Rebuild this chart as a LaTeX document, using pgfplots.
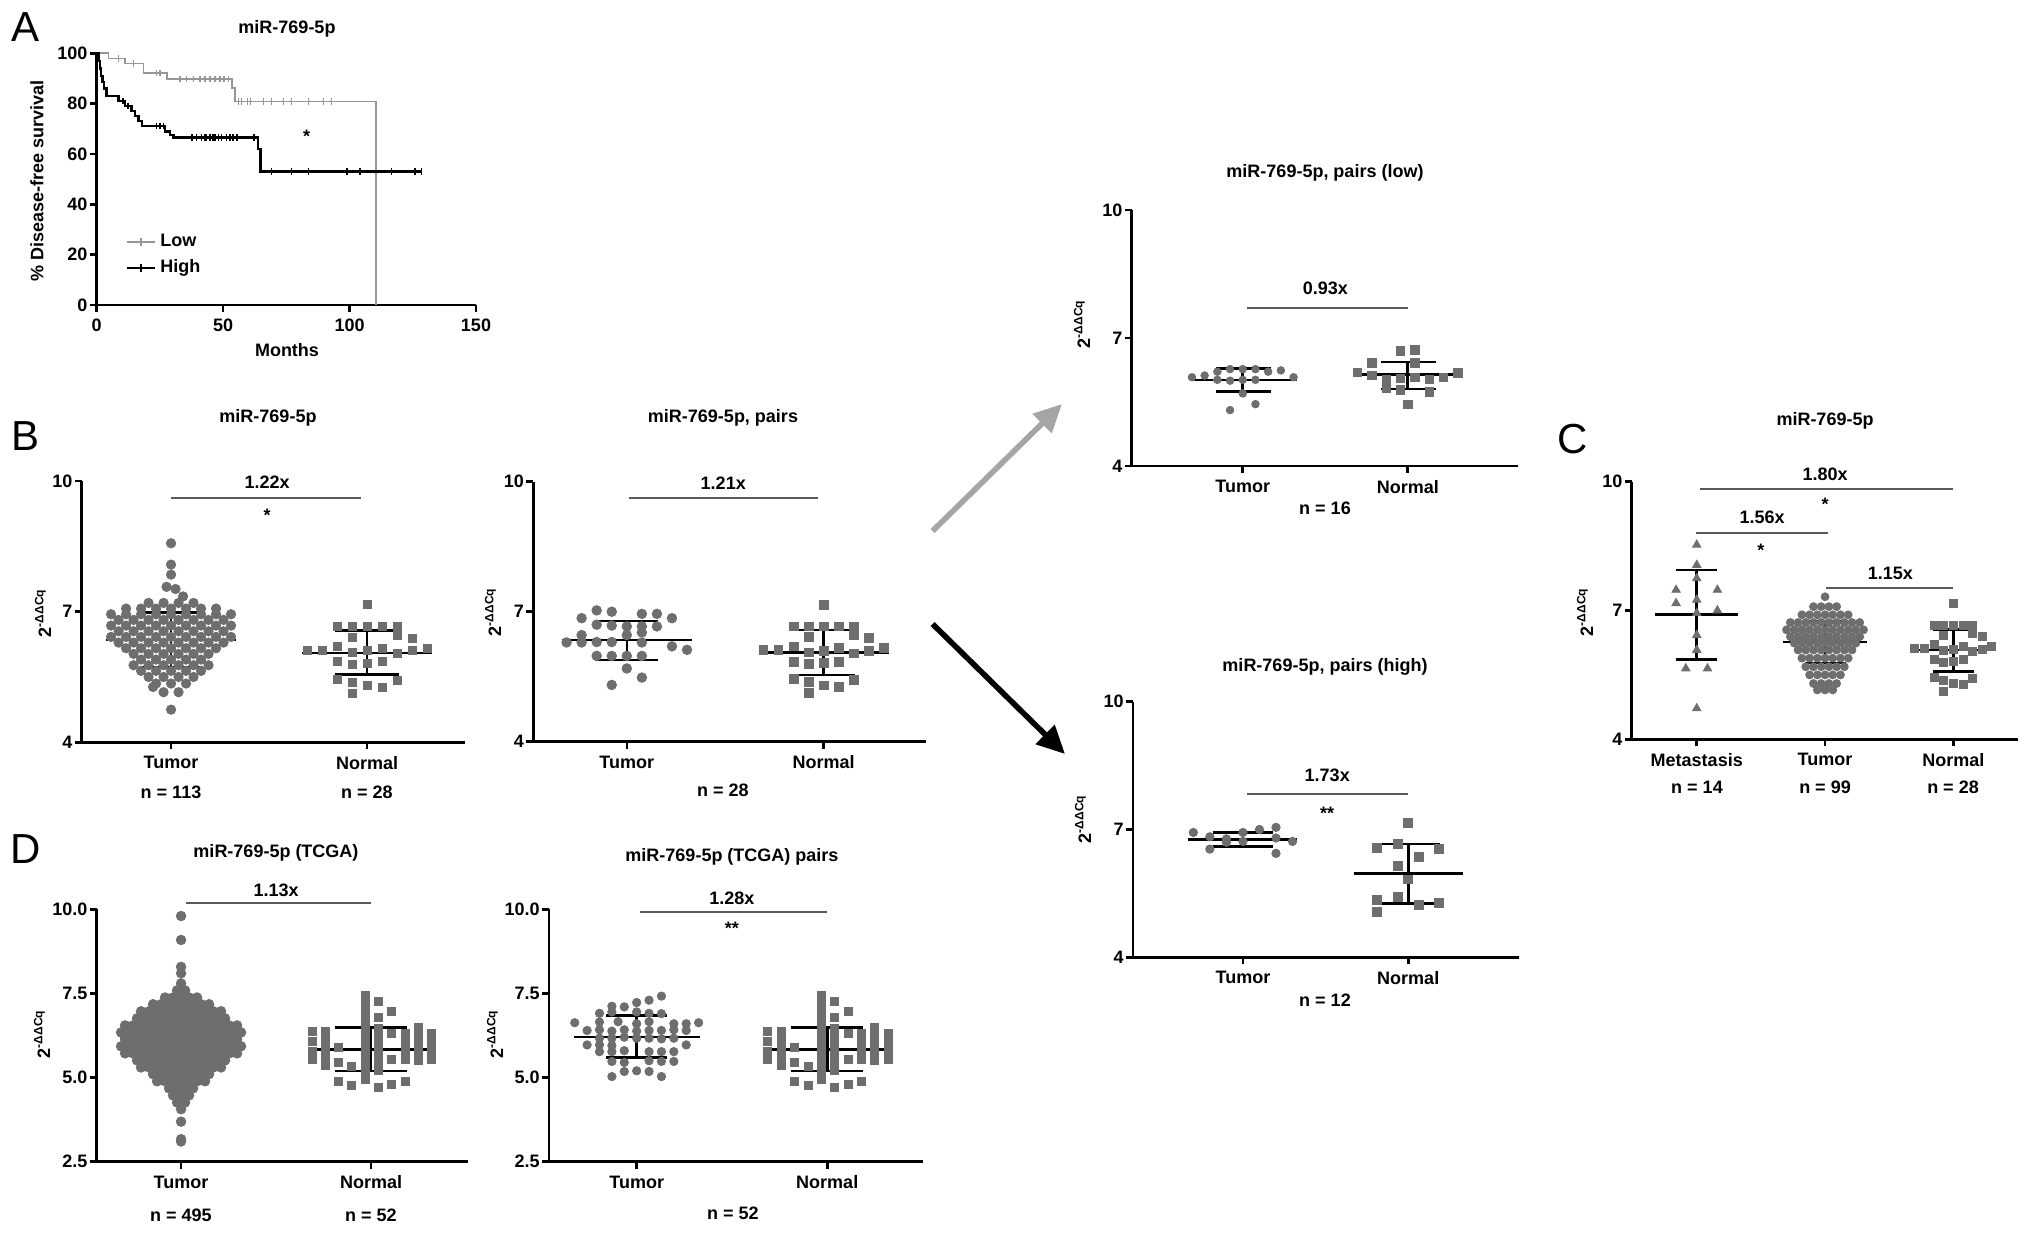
\documentclass[border=0pt]{standalone}
\usepackage{fontspec}
\setmainfont{Liberation Sans}
\usepackage{pgfplots}
\usepackage{pgfplotstable}
\pgfplotsset{compat=1.18}
\usetikzlibrary{arrows.meta}
\definecolor{mk}{RGB}{110,110,110}
\definecolor{lowc}{RGB}{150,150,150}
\definecolor{anncol}{RGB}{90,90,90}
\definecolor{arrg}{RGB}{165,165,165}
\newcommand\fs{\fontsize{9}{10.8}\selectfont\bfseries}
\newcommand\ddcq{2\textsuperscript{-ΔΔCq}}
\pgfplotsset{
  prism/.style={scale only axis, anchor=south west, axis lines=left,
    axis line style={-, line width=1.3pt, black},
    enlargelimits=false, clip=false,
    tick align=outside, major tick length=3.5pt,
    tick style={black, line width=1.3pt},
    tick label style={font=\fs, black},
    yticklabel style={inner xsep=1pt},
    /pgf/number format/assume math mode=true,
    ymin=4, ymax=10, ytick={4,7,10}, xtick={1,2}, xticklabels={Tumor,Normal}},
  mbar/.style={black, line width=1.3pt, unbounded coords=jump, forget plot, mark=none},
}
% x, mean, hi, lo, meanL, meanR, capL, capR
\newcommand\eb[8]{\addplot[mbar] coordinates {(#5,#2) (#6,#2) (#1,nan) (#7,#3) (#8,#3) (#1,nan) (#1,#3) (#1,#4) (#1,nan) (#7,#4) (#8,#4)};}

% ---------- data: s = swarm slot, y = value ----------
\pgfplotstableread[row sep=\\]{s y\\
0 8.57\\0 8.08\\0 7.85\\-0.3 7.57\\0.3 7.52\\0.8 7.35\\
-1.5 7.2\\-0.5 7.2\\0.5 7.2\\1.5 7.2\\
-3 7.07\\-2 7.07\\-1 7.07\\0 7.07\\1 7.07\\2 7.07\\3 7.07\\
-4 6.94\\-3 6.94\\-2 6.94\\-1 6.94\\0 6.94\\1 6.94\\2 6.94\\3 6.94\\4 6.94\\
-3.5 6.81\\-2.5 6.81\\-1.5 6.81\\-0.5 6.81\\0.5 6.81\\1.5 6.81\\2.5 6.81\\3.5 6.81\\
-4 6.68\\-3 6.68\\-2 6.68\\-1 6.68\\0 6.68\\1 6.68\\2 6.68\\3 6.68\\4 6.68\\
-3.5 6.55\\-2.5 6.55\\-1.5 6.55\\-0.5 6.55\\0.5 6.55\\1.5 6.55\\2.5 6.55\\3.5 6.55\\
-4 6.42\\-3 6.42\\-2 6.42\\-1 6.42\\0 6.42\\1 6.42\\2 6.42\\3 6.42\\4 6.42\\
-3.5 6.29\\-2.5 6.29\\-1.5 6.29\\-0.5 6.29\\0.5 6.29\\1.5 6.29\\2.5 6.29\\3.5 6.29\\
-3 6.16\\-2 6.16\\-1 6.16\\0 6.16\\1 6.16\\2 6.16\\3 6.16\\
-2.5 6.03\\-1.5 6.03\\-0.5 6.03\\0.5 6.03\\1.5 6.03\\2.5 6.03\\
-2 5.9\\-1 5.9\\0 5.9\\1 5.9\\2 5.9\\
-2.5 5.77\\-1.5 5.77\\-0.5 5.77\\0.5 5.77\\1.5 5.77\\2.5 5.77\\
-2 5.64\\-1 5.64\\0 5.64\\1 5.64\\2 5.64\\
-1.5 5.5\\-0.5 5.5\\0.5 5.5\\1.5 5.5\\
-1 5.35\\0 5.35\\1 5.35\\
-1.2 5.27\\-0.5 5.15\\0.5 5.15\\
0 4.75\\
}\tBt
\pgfplotstableread[row sep=\\]{s y\\
0 7.16\\-2 6.66\\-1 6.66\\0 6.66\\1 6.66\\2 6.66\\-1 6.42\\2 6.46\\3 6.39\\
-4 6.12\\-3 6.12\\-2 6.2\\-1 6.06\\0 6.1\\1 6.16\\2 6.04\\3 6.1\\4 6.16\\
-2 5.85\\-1 5.8\\0 5.81\\1 5.85\\-2 5.45\\-1 5.38\\2 5.42\\-1 5.12\\0 5.3\\1 5.27\\
}\tN
\pgfplotstableread[row sep=\\]{s y\\
-2 7.03\\-1 7.0\\1 6.95\\2 6.95\\-3 6.85\\3 6.85\\-2 6.70\\-1 6.68\\0 6.66\\1 6.66\\2 6.66\\
-3 6.46\\0 6.46\\1 6.52\\-4 6.29\\-3 6.29\\-2 6.30\\-1 6.30\\1 6.29\\3 6.20\\4 6.12\\
-2 5.98\\-1 5.98\\0 5.98\\1 5.98\\0 5.69\\1 5.48\\-1 5.31\\
}\tBp
\pgfplotstableread[row sep=\\]{s y\\
-4 6.08\\-3 6.12\\-2 6.21\\-1 6.27\\0 6.27\\1 6.27\\2 6.21\\3 6.24\\4 6.08\\
-2 6.02\\-1 6.0\\0 6.02\\1 6.02\\0 5.70\\-1 5.31\\1 5.45\\
}\tLt
\pgfplotstableread[row sep=\\]{s y\\
-0.5 6.70\\0.5 6.72\\-2.5 6.42\\0.5 6.42\\-3.5 6.20\\-2.5 6.13\\-1.5 6.02\\-0.5 6.05\\
0.5 6.08\\1.5 6.03\\2.5 6.08\\3.5 6.18\\-1.5 5.82\\-0.5 5.78\\1.5 5.74\\0 5.45\\
}\tLn
\pgfplotstableread[row sep=\\]{s y\\
-3 6.93\\-2 6.83\\-1 6.78\\0 6.93\\1 7.0\\2 7.05\\3 6.72\\-2 6.54\\-1 6.70\\0 6.72\\2 6.44\\2 6.80\\
}\tHt
\pgfplotstableread[row sep=\\]{s y\\
0 7.15\\-3 6.56\\-1 6.66\\3 6.54\\1 6.36\\-1 6.14\\0 5.83\\-3 5.35\\-1 5.41\\1 5.23\\3 5.28\\-3 5.07\\
}\tHn
\pgfplotstableread[row sep=\\]{s y\\
0 8.53\\0 8.06\\0 7.75\\0 7.25\\0 6.94\\0 6.43\\0 6.08\\-1 7.48\\-1 7.17\\1 7.48\\1 7.0\\-0.53 5.65\\0.52 5.65\\0 4.72\\
}\tCm
\pgfplotstableread[row sep=\\]{s y\\
0 7.32\\
-1.5 7.09\\-0.5 7.09\\0.5 7.09\\1.5 7.09\\
-3 6.90\\-2 6.90\\-1 6.90\\0 6.90\\1 6.90\\2 6.90\\3 6.90\\
-4.5 6.72\\-3.5 6.72\\-2.5 6.72\\-1.5 6.72\\-0.5 6.72\\0.5 6.72\\1.5 6.72\\2.5 6.72\\3.5 6.72\\4.5 6.72\\
-5 6.55\\-4 6.55\\-3 6.55\\-2 6.55\\-1 6.55\\0 6.55\\1 6.55\\2 6.55\\3 6.55\\4 6.55\\5 6.55\\
-4.5 6.39\\-3.5 6.39\\-2.5 6.39\\-1.5 6.39\\-0.5 6.39\\0.5 6.39\\1.5 6.39\\2.5 6.39\\3.5 6.39\\4.5 6.39\\
-4 6.24\\-3 6.24\\-2 6.24\\-1 6.24\\0 6.24\\1 6.24\\2 6.24\\3 6.24\\4 6.24\\
-3.5 6.08\\-2.5 6.08\\-1.5 6.08\\-0.5 6.08\\0.5 6.08\\1.5 6.08\\2.5 6.08\\3.5 6.08\\
-3 5.89\\-2 5.89\\-1 5.89\\0 5.89\\1 5.89\\2 5.89\\3 5.89\\
-2.5 5.69\\-1.5 5.69\\-0.5 5.69\\0.5 5.69\\1.5 5.69\\2.5 5.69\\
-2 5.50\\-1 5.50\\0 5.50\\1 5.50\\2 5.50\\
-1.5 5.30\\-0.5 5.30\\0.5 5.30\\1.5 5.30\\
-1 5.15\\0 5.15\\1 5.15\\
}\tCt
\pgfplotstableread[row sep=\\]{s y\\
0 9.80\\0 9.09\\0 8.29\\0 8.10\\0 7.80\\
-0.5 7.59\\0.5 7.59\\
-2 7.38\\-1 7.38\\0 7.38\\1 7.38\\2 7.38\\
-3.5 7.18\\-2.5 7.18\\-1.5 7.18\\-0.5 7.18\\0.5 7.18\\1.5 7.18\\2.5 7.18\\3.5 7.18\\
-5 6.97\\-4 6.97\\-3 6.97\\-2 6.97\\-1 6.97\\0 6.97\\1 6.97\\2 6.97\\3 6.97\\4 6.97\\5 6.97\\
-5.5 6.76\\-4.5 6.76\\-3.5 6.76\\-2.5 6.76\\-1.5 6.76\\-0.5 6.76\\0.5 6.76\\1.5 6.76\\2.5 6.76\\3.5 6.76\\4.5 6.76\\5.5 6.76\\
-7 6.55\\-6 6.55\\-5 6.55\\-4 6.55\\-3 6.55\\-2 6.55\\-1 6.55\\0 6.55\\1 6.55\\2 6.55\\3 6.55\\4 6.55\\5 6.55\\6 6.55\\7 6.55\\
-7.5 6.34\\-6.5 6.34\\-5.5 6.34\\-4.5 6.34\\-3.5 6.34\\-2.5 6.34\\-1.5 6.34\\-0.5 6.34\\0.5 6.34\\1.5 6.34\\2.5 6.34\\3.5 6.34\\4.5 6.34\\5.5 6.34\\6.5 6.34\\7.5 6.34\\
-7 6.14\\-6 6.14\\-5 6.14\\-4 6.14\\-3 6.14\\-2 6.14\\-1 6.14\\0 6.14\\1 6.14\\2 6.14\\3 6.14\\4 6.14\\5 6.14\\6 6.14\\7 6.14\\
-7.5 5.93\\-6.5 5.93\\-5.5 5.93\\-4.5 5.93\\-3.5 5.93\\-2.5 5.93\\-1.5 5.93\\-0.5 5.93\\0.5 5.93\\1.5 5.93\\2.5 5.93\\3.5 5.93\\4.5 5.93\\5.5 5.93\\6.5 5.93\\7.5 5.93\\
-7 5.72\\-6 5.72\\-5 5.72\\-4 5.72\\-3 5.72\\-2 5.72\\-1 5.72\\0 5.72\\1 5.72\\2 5.72\\3 5.72\\4 5.72\\5 5.72\\6 5.72\\7 5.72\\
-5.5 5.51\\-4.5 5.51\\-3.5 5.51\\-2.5 5.51\\-1.5 5.51\\-0.5 5.51\\0.5 5.51\\1.5 5.51\\2.5 5.51\\3.5 5.51\\4.5 5.51\\5.5 5.51\\
-5 5.30\\-4 5.30\\-3 5.30\\-2 5.30\\-1 5.30\\0 5.30\\1 5.30\\2 5.30\\3 5.30\\4 5.30\\5 5.30\\
-3.5 5.10\\-2.5 5.10\\-1.5 5.10\\-0.5 5.10\\0.5 5.10\\1.5 5.10\\2.5 5.10\\3.5 5.10\\
-3 4.89\\-2 4.89\\-1 4.89\\0 4.89\\1 4.89\\2 4.89\\3 4.89\\
-1.5 4.68\\-0.5 4.68\\0.5 4.68\\1.5 4.68\\
-1 4.47\\0 4.47\\1 4.47\\
-0.5 4.26\\0.5 4.26\\
0 4.06\\0 3.69\\0 3.17\\0 3.10\\
}\tDt
\pgfplotstableread[row sep=\\]{s y\\
-4.45 6.36\\-4.45 6.07\\-4.45 5.77\\-4.45 5.55\\
-3.45 6.36\\-3.45 6.1\\-3.45 5.85\\-3.45 5.6\\-3.45 5.35\\
-2.45 5.9\\-2.45 5.45\\-2.45 4.88\\
-1.45 5.32\\-1.45 4.78\\
-0.45 7.45\\-0.45 7.2\\-0.45 6.95\\-0.45 6.7\\-0.45 6.45\\-0.45 6.2\\-0.45 5.95\\-0.45 5.7\\-0.45 5.45\\-0.45 5.2\\-0.45 4.95\\
0.55 7.25\\0.55 6.79\\0.55 6.45\\0.55 6.2\\0.55 5.95\\0.55 5.7\\0.55 5.45\\0.55 5.2\\0.55 4.7\\
1.55 6.96\\1.55 6.3\\1.55 5.55\\1.55 4.8\\
2.55 6.3\\2.55 6.05\\2.55 5.8\\2.55 5.55\\2.55 4.9\\
3.55 6.5\\3.55 6.25\\3.55 6.0\\3.55 5.75\\3.55 5.5\\
4.55 6.3\\4.55 6.05\\4.55 5.8\\4.55 5.55\\
}\tDn
\pgfplotstableread[row sep=\\]{s y\\
2 7.42\\1 7.30\\0 7.23\\-2 7.12\\-1 7.10\\-3 6.91\\-2 6.95\\0 6.95\\1 6.91\\2 6.90\\
-5 6.63\\-3 6.65\\-1.5 6.66\\0 6.6\\1 6.66\\3 6.6\\4 6.6\\5 6.63\\
-4 6.40\\-3 6.42\\-2 6.38\\-1 6.42\\0 6.38\\1 6.4\\2 6.4\\3 6.42\\4 6.4\\
-3 6.17\\-2 6.17\\-1 6.2\\0 6.17\\1 6.17\\2 6.15\\3 6.17\\
-4 5.97\\-3 5.97\\-2 5.95\\4 5.97\\
-3 5.77\\-2 5.77\\-1 5.8\\1 5.77\\2 5.77\\3 5.77\\
-2 5.48\\-1 5.45\\1 5.5\\2 5.48\\3 5.48\\
-1 5.18\\0 5.2\\1 5.18\\-2 5.03\\2 5.03\\
}\tDp

\begin{document}
\begin{tikzpicture}
\begin{scope}[x=0.5pt,y=-0.5pt]
\path[use as bounding box] (0,0) rectangle (2031,1235);
\node[font=\fontsize{21}{24}\selectfont] at (26,27) {A};
\node[font=\fontsize{21}{24}\selectfont] at (25.5,436) {B};
\node[font=\fontsize{21}{24}\selectfont] at (1573,439) {C};
\node[font=\fontsize{21}{24}\selectfont] at (25.5,849) {D};

\node[font=\fs] at (287,29) {miR-769-5p};
\node[font=\fs] at (268,418) {miR-769-5p};
\node[font=\fs] at (723,418) {miR-769-5p, pairs};
\node[font=\fs] at (1325,173) {miR-769-5p, pairs (low)};
\node[font=\fs] at (1325,667) {miR-769-5p, pairs (high)};
\node[font=\fs] at (1825,421) {miR-769-5p};
\node[font=\fs] at (276,853) {miR-769-5p (TCGA)};
\node[font=\fs] at (732,857) {miR-769-5p (TCGA) pairs};

\node[font=\fs, rotate=90] at (37,181) {\% Disease-free survival};
\node[font=\fs] at (287,350) {Months};

\node[font=\fs, rotate=90] at (43,613) {\ddcq};
\node[font=\fs, rotate=90] at (493,612) {\ddcq};
\node[font=\fs, rotate=90] at (1082,324) {\ddcq};
\node[font=\fs, rotate=90] at (1083,819) {\ddcq};
\node[font=\fs, rotate=90] at (1585,612) {\ddcq};
\node[font=\fs, rotate=90] at (42,1034) {\ddcq};
\node[font=\fs, rotate=90] at (495,1034) {\ddcq};

\node[font=\fs] at (171,792) {n = 113};
\node[font=\fs] at (367,792) {n = 28};
\node[font=\fs] at (723,790) {n = 28};
\node[font=\fs] at (1325,508) {n = 16};
\node[font=\fs] at (1325,1000) {n = 12};
\node[font=\fs] at (1697,787) {n = 14};
\node[font=\fs] at (1825,787) {n = 99};
\node[font=\fs] at (1953,787) {n = 28};
\node[font=\fs] at (181,1215) {n = 495};
\node[font=\fs] at (371,1215) {n = 52};
\node[font=\fs] at (733,1213) {n = 52};

\draw[arrg, line width=2.8pt, -{Triangle[length=14pt,width=13pt]}] (932.6,531) -- (1062,404);
\draw[black, line width=2.8pt, -{Triangle[length=14pt,width=13pt]}] (932.6,624) -- (1065,754);
\end{scope}

% ================= A =================
\begin{axis}[prism, at={(48.35pt,-152.5pt)}, width=189.65pt, height=125.85pt,
  xmin=0, xmax=150, ymin=0, ymax=100, xtick={0,50,100,150}, xticklabels={0,50,100,150},
  ytick={0,20,40,60,80,100},
  legend style={draw=none, fill=none, at={(axis cs:9,19.8)}, anchor=west, font=\fs, row sep=1pt},
  legend cell align=left,
  legend image code/.code={\draw[mark repeat=2,mark phase=2,#1] plot coordinates {(0pt,0pt) (7pt,0pt) (14pt,0pt)};}]
\addlegendimage{lowc, line width=0.8pt, mark=|, mark size=2pt}
\addlegendimage{black, line width=1.2pt, mark=|, mark size=2pt}
\legend{Low,High}
\addplot[lowc, line width=0.8pt, const plot, forget plot] coordinates {(0,100) (4.6,98) (11.2,96) (18.5,92.1) (27.7,89.8) (53.4,86.1) (54.7,80.8) (110.4,0)};
\addplot[lowc, only marks, mark=|, mark size=1.6pt, mark options={line width=0.7pt}, forget plot] coordinates {(8.6,98) (14.5,96) (23.7,92.1) (25,92.1) (33,89.8) (35.6,89.8) (38.2,89.8) (40.9,89.8) (42.8,89.8) (44.8,89.8) (46.8,89.8) (48.8,89.8) (50.3,89.8) (52.1,89.8) (56,80.8) (57.3,80.8) (59.6,80.8) (60.9,80.8) (65.9,80.8) (69.2,80.8) (73.8,80.8) (77.1,80.8) (83.7,80.8) (89.6,80.8) (92.9,80.8)};
\addplot[black, line width=1.2pt, const plot, forget plot] coordinates {(0,100) (0.7,97) (1.2,94) (1.7,91) (2.3,88.5) (3,86) (3.8,83) (8.6,81) (11.2,79) (13.8,77) (15.2,75) (16.5,73) (17.8,71) (27,69) (29,67.5) (30.3,66.5) (63.9,62) (64.8,53) (128.5,53)};
\addplot[black, only marks, mark=|, mark size=1.6pt, mark options={line width=0.8pt}, forget plot] coordinates {(10.5,81) (12.3,79) (23.7,71) (25,71) (26.4,71) (37.6,66.5) (39.5,66.5) (41.5,66.5) (42.8,66.5) (43.5,66.5) (44.8,66.5) (45.9,66.5) (46.8,66.5) (48.1,66.5) (49.4,66.5) (51.4,66.5) (52.7,66.5) (54,66.5) (55.6,66.5) (62.2,66.5) (69.2,53) (77.1,53) (83.7,53) (98.9,53) (104.1,53) (116.6,53) (125.9,53) (128.5,53)};
\node[font=\fs] at (83,67) {*};
\end{axis}

% ================= B1 =================
\begin{axis}[prism, at={(40.85pt,-371.15pt)}, width=191.65pt, height=130.65pt, xmin=0.544, xmax=2.5]
\addplot[only marks, mark=*, mark size=2.35pt, mk] table[x expr=1+0.0765*\thisrow{s}, y=y]{\tBt};
\addplot[only marks, mark=square*, mark size=2pt, mk] table[x expr=2+0.0765*\thisrow{s}, y=y]{\tN};
\eb{1}{6.35}{6.98}{5.72}{0.67}{1.33}{0.837}{1.163}
\eb{2}{6.05}{6.57}{5.55}{1.67}{2.33}{1.837}{2.163}
\draw[anncol, line width=1pt] (1.0,9.62) -- (1.97,9.62);
\node[font=\fs] at (1.49,9.97) {1.22x};
\node[font=\fs] at (1.49,9.22) {*};
\end{axis}

% ================= B2 =================
\begin{axis}[prism, at={(266.65pt,-370.85pt)}, width=196.35pt, height=130pt, xmin=0.525, xmax=2.52]
\addplot[only marks, mark=*, mark size=2.4pt, mk] table[x expr=1+0.0765*\thisrow{s}, y=y]{\tBp};
\addplot[only marks, mark=square*, mark size=2.2pt, mk] table[x expr=2+0.0765*\thisrow{s}, y=y]{\tN};
\eb{1}{6.35}{6.79}{5.89}{0.67}{1.33}{0.84}{1.16}
\eb{2}{6.06}{6.58}{5.54}{1.67}{2.33}{1.84}{2.16}
\draw[anncol, line width=1pt] (1.01,9.62) -- (1.97,9.62);
\node[font=\fs] at (1.49,9.97) {1.21x};
\end{axis}

% ================= pairs (low) =================
\begin{axis}[prism, at={(565.85pt,-233pt)}, width=193.15pt, height=128pt, xmin=0.327, xmax=2.668]
\addplot[only marks, mark=*, mark size=1.9pt, mk] table[x expr=1+0.077*\thisrow{s}, y=y]{\tLt};
\addplot[only marks, mark=square*, mark size=2.1pt, mk] table[x expr=2+0.087*\thisrow{s}, y=y]{\tLn};
\eb{1}{6.02}{6.29}{5.74}{0.69}{1.33}{0.84}{1.17}
\eb{2}{6.14}{6.44}{5.80}{1.68}{2.33}{1.84}{2.17}
\draw[anncol, line width=1pt] (1.024,7.70) -- (2,7.70);
\node[font=\fs] at (1.5,8.17) {0.93x};
\end{axis}

% ================= pairs (high) =================
\begin{axis}[prism, at={(566.5pt,-478.65pt)}, width=193pt, height=127.8pt, xmin=0.335, xmax=2.67]
\addplot[only marks, mark=*, mark size=2.1pt, mk] table[x expr=1+0.1*\thisrow{s}, y=y]{\tHt};
\addplot[only marks, mark=square*, mark size=2.2pt, mk] table[x expr=2+0.0625*\thisrow{s}, y=y]{\tHn};
\eb{1}{6.77}{6.93}{6.60}{0.67}{1.33}{0.82}{1.18}
\eb{2}{5.97}{6.66}{5.27}{1.67}{2.33}{1.81}{2.19}
\draw[anncol, line width=1pt] (1.025,7.83) -- (2,7.83);
\node[font=\fs] at (1.51,8.28) {1.73x};
\node[font=\fs] at (1.51,7.38) {**};
\end{axis}

% ================= C =================
\begin{axis}[prism, at={(815.85pt,-369.65pt)}, width=193.15pt, height=128.8pt, xmin=0.493, xmax=3.504,
  xtick={1,2,3}, xticklabels={Metastasis,Tumor,Normal}]
\addplot[only marks, mark=triangle*, mark size=2.4pt, mk] table[x expr=1+0.161*\thisrow{s}, y=y]{\tCm};
\addplot[only marks, mark=*, mark size=2pt, mk] table[x expr=2+0.06*\thisrow{s}, y=y]{\tCt};
\addplot[only marks, mark=square*, mark size=2pt, mk] table[x expr=3+0.075*\thisrow{s}, y=y]{\tN};
\eb{1}{6.90}{7.94}{5.86}{0.675}{1.325}{0.84}{1.16}
\eb{2}{6.27}{6.76}{5.78}{1.675}{2.325}{1.84}{2.16}
\eb{3}{6.08}{6.56}{5.58}{2.675}{3.325}{2.84}{3.16}
\draw[anncol, line width=1pt] (1.026,9.82) -- (3,9.82);
\node[font=\fs] at (2,10.18) {1.80x};
\node[font=\fs] at (2,9.48) {*};
\draw[anncol, line width=1pt] (0.995,8.81) -- (2.02,8.81);
\node[font=\fs] at (1.51,9.18) {1.56x};
\node[font=\fs] at (1.5,8.41) {*};
\draw[anncol, line width=1pt] (2.01,7.53) -- (3,7.53);
\node[font=\fs] at (2.51,7.87) {1.15x};
\end{axis}

% ================= D1 =================
\begin{axis}[prism, at={(48.35pt,-580.85pt)}, width=185.65pt, height=126.2pt, xmin=0.556, xmax=2.51,
  ymin=2.5, ymax=10, ytick={2.5,5,7.5,10}, yticklabels={2.5,5.0,7.5,10.0}]
\addplot[only marks, mark=*, mark size=2.4pt, mk] table[x expr=1+0.0421*\thisrow{s}, y=y]{\tDt};
\addplot[only marks, mark=square*, mark size=2pt, mk] table[x expr=2+0.07*\thisrow{s}, y=y]{\tDn};
\eb{1}{6.02}{6.81}{5.25}{0.67}{1.33}{0.83}{1.17}
\eb{2}{5.84}{6.49}{5.20}{1.67}{2.33}{1.81}{2.19}
\draw[anncol, line width=1pt] (1.025,10.2) -- (2,10.2);
\node[font=\fs] at (1.5,10.57) {1.13x};
\end{axis}

% ================= D2 =================
\begin{axis}[prism, at={(274.5pt,-580.85pt)}, width=187.15pt, height=126.2pt, xmin=0.54, xmax=2.504,
  ymin=2.5, ymax=10, ytick={2.5,5,7.5,10}, yticklabels={2.5,5.0,7.5,10.0}]
\addplot[only marks, mark=*, mark size=2.1pt, mk] table[x expr=1+0.065*\thisrow{s}, y=y]{\tDp};
\addplot[only marks, mark=square*, mark size=2pt, mk] table[x expr=2+0.07*\thisrow{s}, y=y]{\tDn};
\eb{1}{6.20}{6.84}{5.60}{0.67}{1.33}{0.84}{1.16}
\eb{2}{5.84}{6.49}{5.20}{1.67}{2.33}{1.81}{2.19}
\draw[anncol, line width=1pt] (1.02,9.93) -- (2,9.93);
\node[font=\fs] at (1.5,10.34) {1.28x};
\node[font=\fs] at (1.5,9.43) {**};
\end{axis}
\end{tikzpicture}
\end{document}
